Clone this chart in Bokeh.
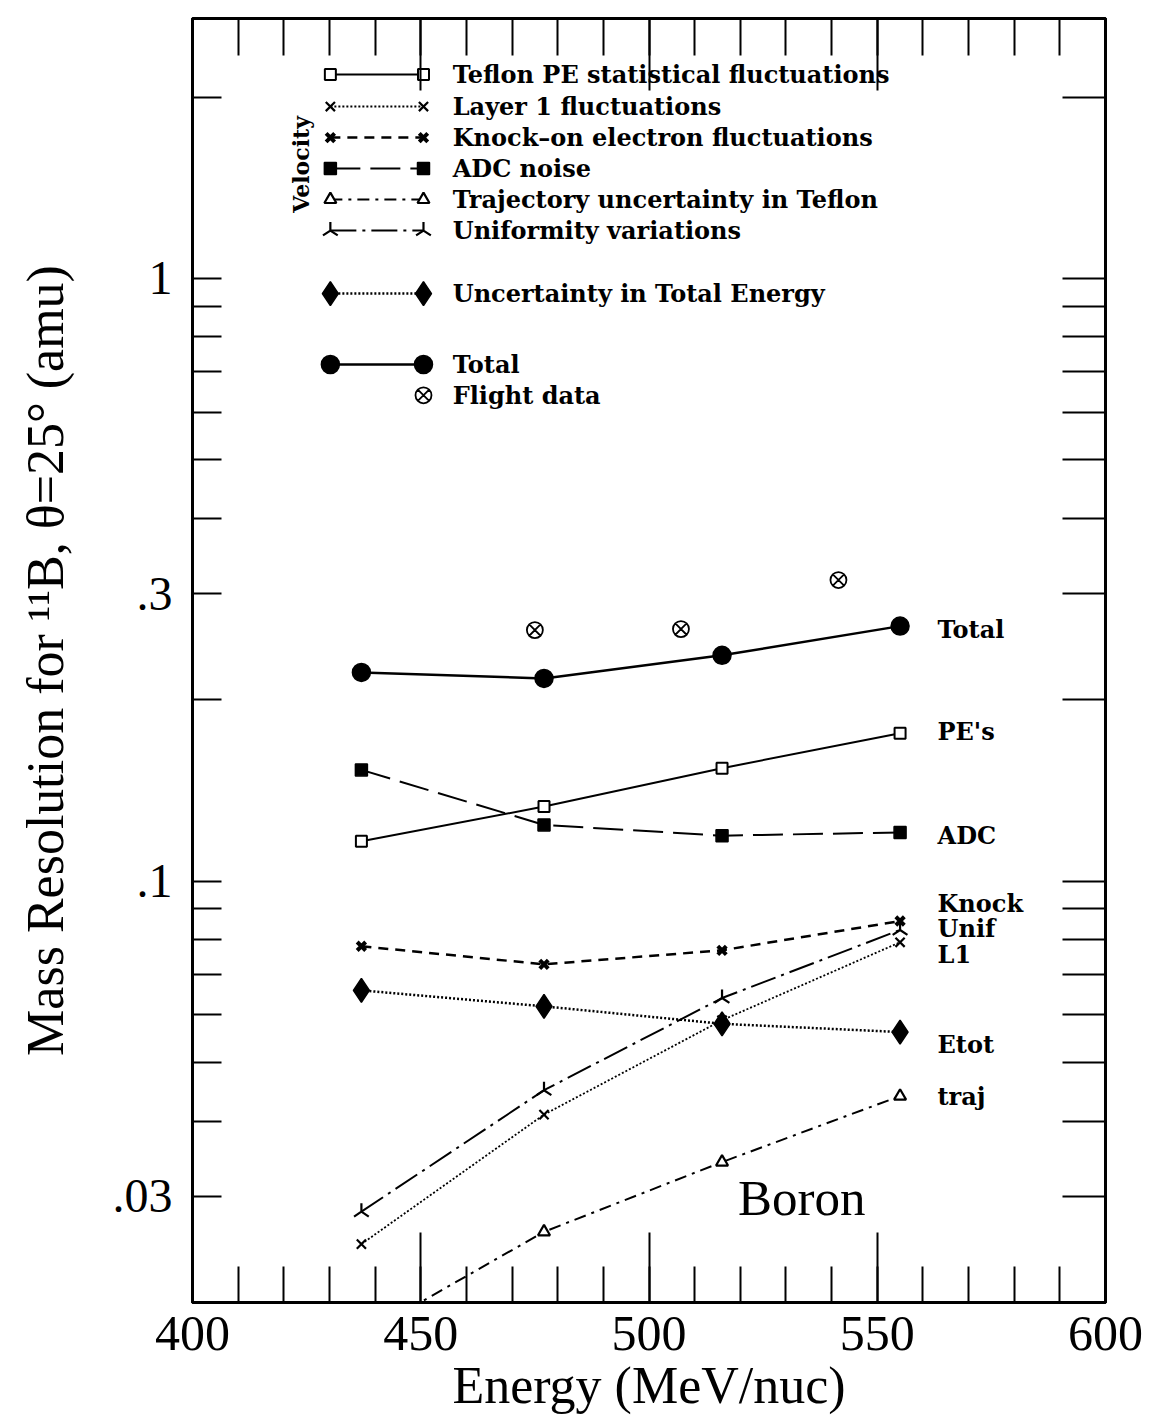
import numpy as np
from bokeh.plotting import figure
from bokeh.models import (LogAxis, LinearAxis, FixedTicker, Range1d,
                          CustomLabelingPolicy)
from bokeh.core.properties import value
from bokeh.embed import file_html
from bokeh.resources import INLINE

# ---------------- data ----------------
energy = [437, 477, 516, 555]
total = [0.222, 0.217, 0.237, 0.265]
pes = [0.1165, 0.133, 0.154, 0.176]
adc = [0.153, 0.124, 0.119, 0.1205]
knock = [0.078, 0.0728, 0.0768, 0.0859]
etot = [0.0659, 0.0620, 0.0580, 0.0562]
unif = [0.0283, 0.045, 0.064, 0.083]
layer1 = [0.025, 0.041, 0.0588, 0.0792]
traj = [0.0176, 0.0262, 0.0342, 0.044]
flight_energy = [475, 507, 541.5]
flight_res = [0.261, 0.262, 0.316]

x_major_ticks = [400, 450, 500, 550, 600]
x_minor_ticks = list(range(400, 601, 10))
y_labeled_ticks = [0.03, 0.1, 0.3, 1]
y_other_ticks = [0.02, 0.04, 0.05, 0.06, 0.07, 0.08, 0.09,
                 0.2, 0.4, 0.5, 0.6, 0.7, 0.8, 0.9, 2]
y_tick_labels = {0.03: ".03", 0.1: ".1", 0.3: ".3", 1: "1"}

legend_labels = ["Teflon PE statistical fluctuations", "Layer 1 fluctuations",
                 "Knock\u2013on electron fluctuations", "ADC noise",
                 "Trajectory uncertainty in Teflon", "Uniformity variations",
                 "Uncertainty in Total Energy", "Total", "Flight data"]
right_labels = ["Total", "PE's", "ADC", "Knock", "Unif", "L1", "Etot", "traj"]

# ---------------- layout constants ----------------
LEG_X0, LEG_X1, LEG_TX = 430.2, 450.6, 457.0
leg_rows = [2.179, 1.929, 1.713, 1.522, 1.352, 1.201, 0.944, 0.720, 0.640]
RIGHT_X = 563.2
right_rows = [0.262, 0.177, 0.119, 0.092, 0.0835, 0.0755, 0.0535, 0.0440]

FONT_LEG = value("DejaVu Serif")
FS_LEG = "24px"

p = figure(width=1152, height=1426, output_backend="svg", toolbar_location=None,
           x_range=Range1d(400, 600), y_range=Range1d(0.02, 2.7),
           y_axis_type="log", min_border_left=192, min_border_right=47,
           min_border_top=18, min_border_bottom=124)
p.background_fill_color = "white"
p.border_fill_color = "white"
p.outline_line_color = "black"
p.outline_line_width = 3
p.xgrid.visible = False
p.ygrid.visible = False

# bottom axis
xa = p.xaxis[0]
xa.ticker = FixedTicker(ticks=x_major_ticks, minor_ticks=x_minor_ticks)
xa.major_tick_in = 70
xa.major_tick_out = 0
xa.minor_tick_in = 36
xa.minor_tick_out = 0
xa.major_tick_line_width = 2
xa.minor_tick_line_width = 2
xa.axis_line_width = 3
xa.major_label_text_font = "Liberation Serif"
xa.major_label_text_font_size = "50px"
xa.major_label_text_color = "black"
xa.major_label_standoff = 14
xa.axis_label = "Energy (MeV/nuc)"
xa.axis_label_text_font = "Liberation Serif"
xa.axis_label_text_font_size = "52px"
xa.axis_label_text_font_style = "normal"
xa.axis_label_text_color = "black"
xa.axis_label_standoff = 4

# left axis
ya = p.yaxis[0]
ya.ticker = FixedTicker(ticks=y_labeled_ticks, minor_ticks=y_other_ticks)
ya.major_label_overrides = y_tick_labels
ya.major_tick_in = 29
ya.major_tick_out = 0
ya.minor_tick_in = 29
ya.minor_tick_out = 0
ya.major_tick_line_width = 2
ya.minor_tick_line_width = 2
ya.axis_line_width = 3
ya.major_label_text_font = "Liberation Serif"
ya.major_label_text_font_size = "48px"
ya.major_label_text_color = "black"
ya.major_label_standoff = 20
ya.axis_label = "Mass Resolution for \u00b9\u00b9B, \u03b8=25\u00b0 (amu)"
ya.axis_label_text_font = "Liberation Serif"
ya.axis_label_text_font_size = "52px"
ya.axis_label_text_font_style = "normal"
ya.axis_label_text_color = "black"
ya.axis_label_standoff = 36

# right axis (ticks only, all as minor ticks so no labels are made)
ra = LogAxis(ticker=FixedTicker(ticks=[], minor_ticks=y_labeled_ticks + y_other_ticks),
             major_tick_in=43, major_tick_out=0, minor_tick_in=43, minor_tick_out=0,
             major_tick_line_width=2, minor_tick_line_width=2, axis_line_width=3,
             major_label_standoff=0)
p.add_layout(ra, "right")

# top axis (ticks only)
no_labels = CustomLabelingPolicy(code="return []")
ta = LinearAxis(ticker=FixedTicker(ticks=x_major_ticks, minor_ticks=x_minor_ticks),
                major_tick_in=72, major_tick_out=0, minor_tick_in=37, minor_tick_out=0,
                major_tick_line_width=2, minor_tick_line_width=2, axis_line_width=3,
                major_label_text_font_size="0px", major_label_standoff=0,
                major_label_policy=no_labels)
p.add_layout(ta, "above")

# ---------------- series ----------------
def series(y, dash, lw, marker, size, fill, mlw=1.5, angle=0.0):
    p.line(energy, y, line_color="black", line_width=lw, line_dash=dash)
    p.scatter(energy, y, marker=marker, size=size, line_color="black",
              fill_color=fill, line_width=mlw, angle=angle)

def legend_row(i, dash, lw, marker, size, fill, mlw=1.5, angle=0.0):
    yv = leg_rows[i]
    p.line([LEG_X0, LEG_X1], [yv, yv], line_color="black", line_width=lw, line_dash=dash)
    p.scatter([LEG_X0, LEG_X1], [yv, yv], marker=marker, size=size, line_color="black",
              fill_color=fill, line_width=mlw, angle=angle)

styles = [
    (pes, "solid", 2, "square", 11, "white", 2, 0.0),
    (layer1, "2 2", 1.8, "x", 13, None, 2.2, 0.0),
    (knock, "10 7", 2.5, "x", 12, None, 4, 0.0),
    (adc, "30 10", 2, "square", 12, "black", 1.5, 0.0),
    (traj, "12 6 3 6", 2, "triangle", 12, "white", 2.2, 0.0),
    (unif, "26 6 3 6", 2, "y", 17, None, 2.2, np.pi),
    (etot, "2 2", 2.5, "diamond", 24, "black", 1.5, 0.0),
    (total, "solid", 2.5, "circle", 18, "black", 1.5, 0.0),
]
for i, (ys, dash, lw, mk, sz, fc, mlw, ang) in enumerate(styles):
    series(ys, dash, lw, mk, sz, fc, mlw, ang)
    legend_row(i, dash, lw, mk, sz, fc, mlw, ang)

p.scatter(flight_energy, flight_res, marker="circle_x", size=16, line_color="black",
          fill_color="white", line_width=1.8)
p.scatter([LEG_X1], [leg_rows[8]], marker="circle_x", size=16, line_color="black",
          fill_color="white", line_width=1.8)

# ---------------- texts ----------------
p.text(x=[LEG_TX] * len(legend_labels), y=leg_rows, text=legend_labels,
       text_font=FONT_LEG, text_font_size=FS_LEG, text_font_style="bold",
       text_baseline="middle", text_align="left", text_color="black")
p.text(x=[RIGHT_X] * len(right_labels), y=right_rows, text=right_labels,
       text_font=FONT_LEG, text_font_size=FS_LEG, text_font_style="bold",
       text_baseline="middle", text_align="left", text_color="black")
p.text(x=[423.7], y=[1.546], text=["Velocity"], angle=np.pi / 2,
       text_font=FONT_LEG, text_font_size="22px", text_font_style="bold",
       text_baseline="middle", text_align="center", text_color="black")
p.text(x=[519.5], y=[0.0298], text=["Boron"],
       text_font=value("Liberation Serif"), text_font_size="51px",
       text_baseline="middle", text_align="left", text_color="black")

open("out.html", "w").write(file_html(p, INLINE))
